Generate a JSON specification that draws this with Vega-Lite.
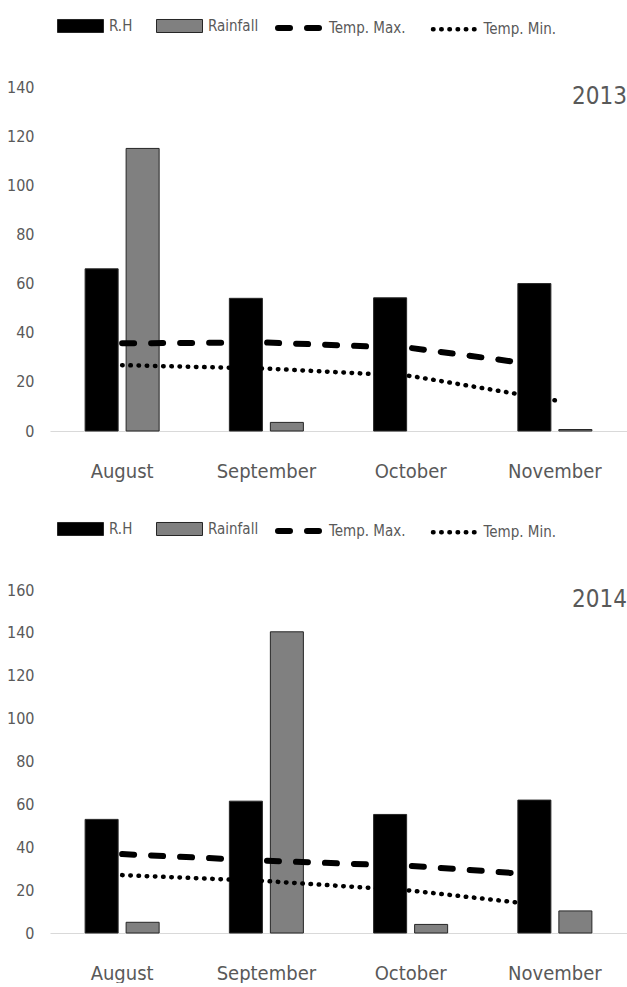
{
  "$schema": "https://vega.github.io/schema/vega-lite/v6.json",
  "background": "white",
  "padding": {"left": 6, "top": 2, "right": 0, "bottom": 0},
  "config": {
    "font": "DejaVu Sans Condensed, Roboto, sans-serif",
    "view": {"stroke": null},
    "axis": {"labelFont": "DejaVu Sans Condensed, Roboto, sans-serif", "labelColor": "#595959", "grid": false, "ticks": false, "title": null},
    "legend": {"labelFont": "DejaVu Sans Condensed, Roboto, sans-serif", "labelColor": "#595959", "labelFontSize": 15, "title": null},
    "title": {"font": "DejaVu Sans Condensed, Roboto, sans-serif", "color": "#595959", "fontWeight": "normal"}
  },
  "data": {
    "values": [
      {"year": 2013, "month": "August", "series": "R.H", "value": 66},
      {"year": 2013, "month": "September", "series": "R.H", "value": 54},
      {"year": 2013, "month": "October", "series": "R.H", "value": 54.2},
      {"year": 2013, "month": "November", "series": "R.H", "value": 60},
      {"year": 2013, "month": "August", "series": "Rainfall", "value": 115},
      {"year": 2013, "month": "September", "series": "Rainfall", "value": 3.5},
      {"year": 2013, "month": "November", "series": "Rainfall", "value": 0.6},
      {"year": 2013, "month": "August", "series": "Temp. Max.", "value": 35.7},
      {"year": 2013, "month": "September", "series": "Temp. Max.", "value": 36},
      {"year": 2013, "month": "October", "series": "Temp. Max.", "value": 33.8},
      {"year": 2013, "month": "November", "series": "Temp. Max.", "value": 26},
      {"year": 2013, "month": "August", "series": "Temp. Min.", "value": 26.8},
      {"year": 2013, "month": "September", "series": "Temp. Min.", "value": 25.4},
      {"year": 2013, "month": "October", "series": "Temp. Min.", "value": 22.4},
      {"year": 2013, "month": "November", "series": "Temp. Min.", "value": 12.5},
      {"year": 2014, "month": "August", "series": "R.H", "value": 53},
      {"year": 2014, "month": "September", "series": "R.H", "value": 61.5},
      {"year": 2014, "month": "October", "series": "R.H", "value": 55.3},
      {"year": 2014, "month": "November", "series": "R.H", "value": 62},
      {"year": 2014, "month": "August", "series": "Rainfall", "value": 5},
      {"year": 2014, "month": "September", "series": "Rainfall", "value": 140.5},
      {"year": 2014, "month": "October", "series": "Rainfall", "value": 4},
      {"year": 2014, "month": "November", "series": "Rainfall", "value": 10.3},
      {"year": 2014, "month": "August", "series": "Temp. Max.", "value": 36.8},
      {"year": 2014, "month": "September", "series": "Temp. Max.", "value": 33.7},
      {"year": 2014, "month": "October", "series": "Temp. Max.", "value": 31.3},
      {"year": 2014, "month": "November", "series": "Temp. Max.", "value": 26.6},
      {"year": 2014, "month": "August", "series": "Temp. Min.", "value": 27},
      {"year": 2014, "month": "September", "series": "Temp. Min.", "value": 24.2},
      {"year": 2014, "month": "October", "series": "Temp. Min.", "value": 19.8},
      {"year": 2014, "month": "November", "series": "Temp. Min.", "value": 12.3}
    ]
  },
  "spacing": 159,
  "bounds": "flush",
  "resolve": {
    "scale": {"x": "independent", "y": "independent", "xOffset": "independent", "fill": "independent", "strokeDash": "independent", "strokeWidth": "independent"},
    "legend": {"fill": "independent", "strokeDash": "independent"}
  },
  "vconcat": [
    {
      "width": 577,
      "height": 344,
      "title": {"text": "2013", "anchor": "end", "frame": "group", "fontSize": 24, "offset": -107},
      "transform": [{"filter": "datum.year == 2013"}],
      "encoding": {
        "x": {"field": "month", "type": "nominal", "sort": ["August", "September", "October", "November"],
              "scale": {"paddingInner": 0.487, "paddingOuter": 0.2435},
              "axis": {"labelAngle": 0, "labelFontSize": 20, "labelPadding": 30, "domainColor": "#d9d9d9", "domainWidth": 1}},
        "y": {"field": "value", "type": "quantitative", "scale": {"domain": [0, 140], "nice": false},
              "axis": {"values": [0, 20, 40, 60, 80, 100, 120, 140], "domain": false, "labelFontSize": 16, "labelPadding": 16}}
      },
      "layer": [
        {
          "transform": [{"filter": {"field": "series", "oneOf": ["R.H", "Rainfall"]}}],
          "mark": {"type": "bar", "stroke": "#262626", "strokeWidth": 1},
          "encoding": {
            "xOffset": {"field": "series", "type": "nominal", "sort": ["R.H", "Rainfall"], "scale": {"paddingInner": 0.195, "paddingOuter": 0}},
            "fill": {"field": "series", "type": "nominal",
                     "scale": {"domain": ["R.H", "Rainfall"], "range": ["#000000", "#808080"]},
                     "legend": {"orient": "none", "legendX": 7, "legendY": -85, "direction": "horizontal",
                                "symbolType": "M-1,-0.283H1V0.283H-1Z", "symbolSize": 2116,
                                "symbolStrokeColor": "#262626", "symbolStrokeWidth": 1, "symbolOpacity": 1,
                                "labelOffset": 5, "columnPadding": 21}}
          }
        },
        {
          "transform": [{"filter": {"field": "series", "oneOf": ["Temp. Max.", "Temp. Min."]}}],
          "mark": {"type": "line", "color": "black", "strokeCap": "round"},
          "encoding": {
            "order": {"value": null},
            "strokeDash": {"field": "series", "type": "nominal",
                           "scale": {"domain": ["Temp. Max.", "Temp. Min."], "range": [[12, 17], [0.5, 7.7]]},
                           "legend": {"orient": "none", "legendX": 225, "legendY": -85, "direction": "horizontal",
                                      "symbolType": "stroke", "symbolSize": 2116, "symbolStrokeColor": "black",
                                      "symbolStrokeWidth": 5, "labelOffset": 2, "columnPadding": 17.5,
                                      "encode": {"symbols": {"update": {"strokeCap": {"value": "round"}}}}}},
            "strokeWidth": {"field": "series", "type": "nominal",
                            "scale": {"domain": ["Temp. Max.", "Temp. Min."], "range": [6, 4.5]}, "legend": null}
          }
        }
      ]
    },
    {
      "width": 577,
      "height": 343,
      "title": {"text": "2014", "anchor": "end", "frame": "group", "fontSize": 24, "offset": -107},
      "transform": [{"filter": "datum.year == 2014"}],
      "encoding": {
        "x": {"field": "month", "type": "nominal", "sort": ["August", "September", "October", "November"],
              "scale": {"paddingInner": 0.487, "paddingOuter": 0.2435},
              "axis": {"labelAngle": 0, "labelFontSize": 20, "labelPadding": 30, "domainColor": "#d9d9d9", "domainWidth": 1}},
        "y": {"field": "value", "type": "quantitative", "scale": {"domain": [0, 160], "nice": false},
              "axis": {"values": [0, 20, 40, 60, 80, 100, 120, 140, 160], "domain": false, "labelFontSize": 16, "labelPadding": 16}}
      },
      "layer": [
        {
          "transform": [{"filter": {"field": "series", "oneOf": ["R.H", "Rainfall"]}}],
          "mark": {"type": "bar", "stroke": "#262626", "strokeWidth": 1},
          "encoding": {
            "xOffset": {"field": "series", "type": "nominal", "sort": ["R.H", "Rainfall"], "scale": {"paddingInner": 0.195, "paddingOuter": 0}},
            "fill": {"field": "series", "type": "nominal",
                     "scale": {"domain": ["R.H", "Rainfall"], "range": ["#000000", "#808080"]},
                     "legend": {"orient": "none", "legendX": 7, "legendY": -85, "direction": "horizontal",
                                "symbolType": "M-1,-0.283H1V0.283H-1Z", "symbolSize": 2116,
                                "symbolStrokeColor": "#262626", "symbolStrokeWidth": 1, "symbolOpacity": 1,
                                "labelOffset": 5, "columnPadding": 21}}
          }
        },
        {
          "transform": [{"filter": {"field": "series", "oneOf": ["Temp. Max.", "Temp. Min."]}}],
          "mark": {"type": "line", "color": "black", "strokeCap": "round"},
          "encoding": {
            "order": {"value": null},
            "strokeDash": {"field": "series", "type": "nominal",
                           "scale": {"domain": ["Temp. Max.", "Temp. Min."], "range": [[12, 17], [0.5, 7.7]]},
                           "legend": {"orient": "none", "legendX": 225, "legendY": -85, "direction": "horizontal",
                                      "symbolType": "stroke", "symbolSize": 2116, "symbolStrokeColor": "black",
                                      "symbolStrokeWidth": 5, "labelOffset": 2, "columnPadding": 17.5,
                                      "encode": {"symbols": {"update": {"strokeCap": {"value": "round"}}}}}},
            "strokeWidth": {"field": "series", "type": "nominal",
                            "scale": {"domain": ["Temp. Max.", "Temp. Min."], "range": [6, 4.5]}, "legend": null}
          }
        }
      ]
    }
  ]
}
